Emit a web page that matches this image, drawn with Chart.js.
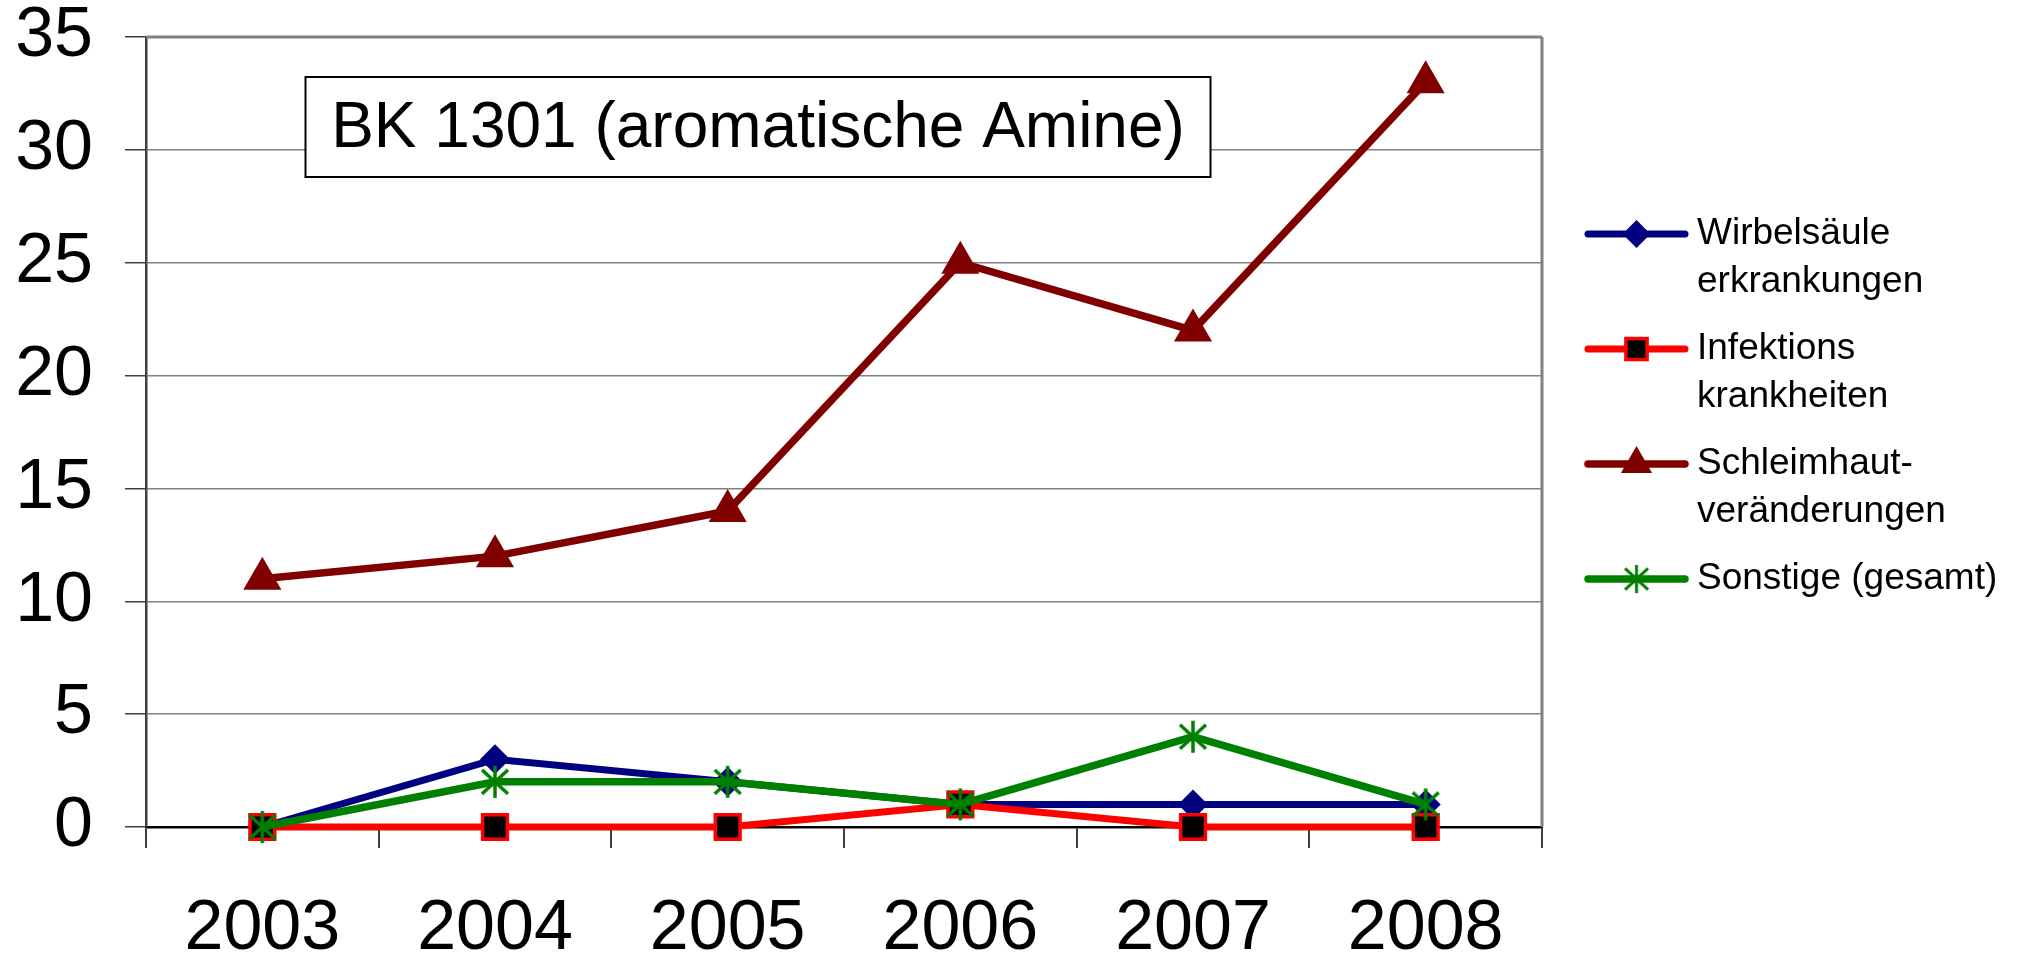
<!DOCTYPE html>
<html><head><meta charset="utf-8">
<script src="https://cdn.jsdelivr.net/npm/chart.js@4/dist/chart.umd.min.js"></script>
<style>html,body{margin:0;padding:0;background:#fff}#wrap{width:2024px;height:954px}</style>
</head><body><div id="wrap"><canvas id="c" width="2024" height="954"></canvas></div>
<script>
const years = ['2003','2004','2005','2006','2007','2008'];
const wirbelsaeule = [0,3,2,1,1,1];
const infektions = [0,0,0,1,0,0];
const schleimhaut = [11,12,14,25,22,33];
const sonstige = [0,2,2,1,4,1];
const seriesLabels = [['Wirbelsäule','erkrankungen'],['Infektions','krankheiten'],['Schleimhaut-','veränderungen'],['Sonstige (gesamt)']];
const yMin = 0, yMax = 35, yStep = 5;
const chartTitle = 'BK 1301 (aromatische Amine)';

const FONT = "'Liberation Sans', Arial, sans-serif";

function makeStar(color){
  const c = document.createElement('canvas');
  c.width = 34; c.height = 34;
  const g = c.getContext('2d');
  g.strokeStyle = color; g.lineWidth = 3.5; g.lineCap = 'butt';
  g.beginPath();
  g.moveTo(17,1); g.lineTo(17,33);
  g.moveTo(4,5); g.lineTo(30,29);
  g.moveTo(30,5); g.lineTo(4,29);
  g.stroke();
  return c;
}
const starImg = makeStar('#008000');

const datasets = [
  {label: seriesLabels[0].join(' '), data: wirbelsaeule, borderColor:'#000080', backgroundColor:'#000080',
   pointStyle:'rectRot', pointRadius:15, pointBorderWidth:0, borderWidth:7, order:3, legendR:14},
  {label: seriesLabels[1].join(' '), data: infektions, borderColor:'#FF0000', backgroundColor:'#FF0000',
   pointBackgroundColor:'#000000', pointBorderColor:'#FF0000', pointStyle:'rect', pointRadius:17.5, pointBorderWidth:3.5, borderWidth:7, order:2, legendR:15},
  {label: seriesLabels[2].join(' '), data: schleimhaut, borderColor:'#800000', backgroundColor:'#800000',
   pointStyle:'triangle', pointRadius:22, pointBorderWidth:0, borderWidth:7.5, order:1, legendR:18},
  {label: seriesLabels[3].join(' '), data: sonstige, borderColor:'#008000', backgroundColor:'#008000',
   pointStyle: starImg, pointRadius:16, pointBorderWidth:0, borderWidth:7.5, order:0, legendR:15}
];
datasets.forEach(d => { d.clip = false; d.tension = 0; d.fill = false; d.pointHoverRadius = d.pointRadius; });

const framePlugin = {
  id:'frame',
  beforeDatasetsDraw(chart){
    const {ctx, chartArea:a} = chart;
    ctx.save();
    ctx.strokeStyle = '#808080'; ctx.lineWidth = 3;
    ctx.beginPath();
    ctx.moveTo(a.right, a.top); ctx.lineTo(a.right, a.bottom);
    ctx.moveTo(a.left, a.top); ctx.lineTo(a.right, a.top);
    ctx.stroke();
    ctx.restore();
  },
  afterDraw(chart){
    const {ctx, chartArea:a} = chart;
    // title box
    ctx.save();
    ctx.font = '64px ' + FONT;
    const cx = 758, cy = 127;
    const bw = 905, bh = 100;
    ctx.fillStyle = '#fff';
    ctx.fillRect(cx - bw/2, cy - bh/2, bw, bh);
    ctx.strokeStyle = '#000'; ctx.lineWidth = 2;
    ctx.strokeRect(cx - bw/2, cy - bh/2, bw, bh);
    ctx.fillStyle = '#000'; ctx.textAlign = 'center'; ctx.textBaseline = 'middle';
    ctx.fillText(chartTitle, cx, cy + 2);
    ctx.restore();

    // legend
    const lx0 = a.right + 46, lx1 = a.right + 143, tx = a.right + 155;
    const startY = 234, spacing = 115, lineH = 48;
    chart.data.datasets.forEach((ds, i) => {
      const y = startY + i * spacing;
      ctx.save();
      ctx.strokeStyle = ds.borderColor; ctx.lineWidth = ds.borderWidth; ctx.lineCap = 'round';
      ctx.beginPath(); ctx.moveTo(lx0, y); ctx.lineTo(lx1, y); ctx.stroke();
      const mx = (lx0 + lx1) / 2;
      ctx.fillStyle = ds.pointBackgroundColor || ds.backgroundColor;
      ctx.strokeStyle = ds.pointBorderColor || ds.borderColor;
      ctx.lineWidth = ds.pointBorderWidth;
      if (typeof ds.pointStyle === 'object') {
        const s = ds.legendR * 2;
        ctx.drawImage(ds.pointStyle, mx - s/2, y - s/2, s, s);
      } else {
        Chart.helpers.drawPoint(ctx, {pointStyle: ds.pointStyle, radius: ds.legendR, rotation:0, borderWidth: ds.pointBorderWidth}, mx, y);
      }
      ctx.fillStyle = '#000'; ctx.font = '37px ' + FONT; ctx.textAlign = 'left'; ctx.textBaseline = 'middle';
      seriesLabels[i].forEach((t, k) => ctx.fillText(t, tx, y + k * lineH));
      ctx.restore();
    });
  }
};

new Chart(document.getElementById('c'), {
  type:'line',
  data:{labels: years, datasets},
  options:{
    responsive:false, animation:false, devicePixelRatio:1,
    layout:{padding:{top:37, right:482, left:0, bottom:0}},
    plugins:{legend:{display:false}, title:{display:false}, tooltip:{enabled:false}},
    scales:{
      x:{
        offset:true,
        grid:{offset:true, drawOnChartArea:false, tickLength:21, color:'#404040', tickColor:'#404040', lineWidth:2},
        border:{color:'#000', width:2.5},
        ticks:{font:{family:FONT, size:70}, color:'#000', padding:40, maxRotation:0, autoSkip:false},
        afterFit(s){ s.height = 127; s.paddingLeft = 0; s.paddingRight = 0; }
      },
      y:{
        min:yMin, max:yMax,
        grid:{color:'#808080', tickColor:'#404040', tickLength:21, lineWidth:1.5},
        border:{color:'#404040', width:2.5},
        ticks:{stepSize:yStep, font:{family:FONT, size:70}, color:'#000', padding:32},
        afterFit(s){ s.width = 146; s.paddingTop = 0; s.paddingBottom = 0; }
      }
    }
  },
  plugins:[framePlugin]
});
</script>
</body></html>
